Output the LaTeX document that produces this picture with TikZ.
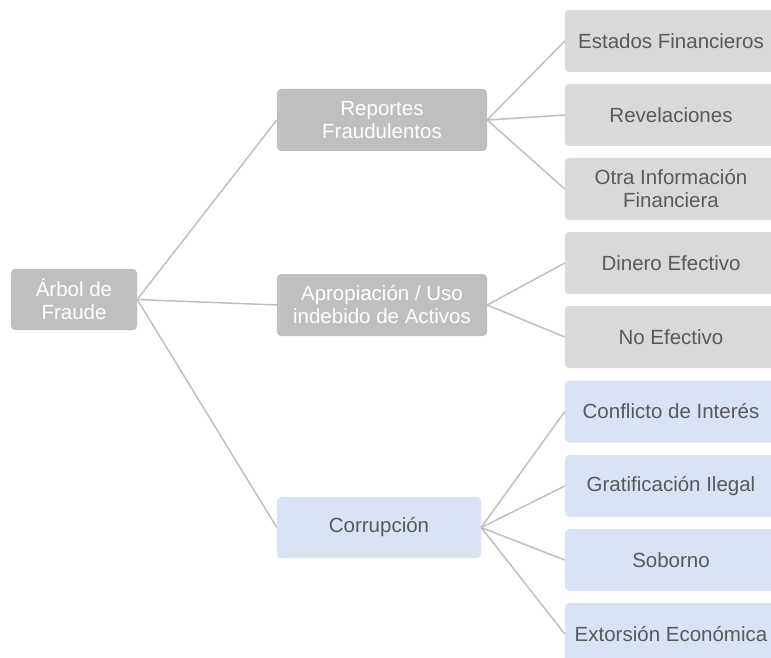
\documentclass[tikz,border=0pt]{standalone}
\usepackage{fontspec}
\setmainfont{Liberation Sans}
\definecolor{boxgray}{HTML}{BFBFBF}
\definecolor{leafgray}{HTML}{D9D9D9}
\definecolor{leafblue}{HTML}{DAE3F3}
\definecolor{txtgray}{HTML}{595959}
\definecolor{linegray}{HTML}{BFBFBF}
\begin{document}
\begin{tikzpicture}[x=1pt,y=-1pt,
  base/.style={rectangle, rounded corners=4pt, inner sep=2pt, align=center,
    font=\fontsize{20.5}{23}\selectfont},
  rootbox/.style={base, fill=boxgray, text=white, minimum width=126pt, minimum height=61pt},
  midbox/.style={base, fill=boxgray, text=white, minimum width=210pt, minimum height=62pt},
  midblue/.style={base, fill=leafblue, text=txtgray, minimum width=204pt, minimum height=61pt},
  leafg/.style={base, fill=leafgray, text=txtgray, minimum width=212pt, minimum height=62pt},
  leafb/.style={base, fill=leafblue, text=txtgray, minimum width=212pt, minimum height=62pt},
  conn/.style={draw=linegray, line width=1.5pt}]
\useasboundingbox (0,0) rectangle (771,658);
\clip (0,0) rectangle (771,658);
\node[rootbox] (root) at (74,299.5) {Árbol de\\Fraude};
\node[midbox] (rep) at (382,120) {Reportes\\Fraudulentos};
\node[midbox] (apr) at (382,305) {Apropiación / Uso\\indebido de Activos};
\node[midblue] (cor) at (379,527.5) {Corrupción};
\node[leafg] (l1) at (671,41) {Estados Financieros};
\node[leafg] (l2) at (671,115) {Revelaciones};
\node[leafg] (l3) at (671,189) {Otra Información\\Financiera};
\node[leafg] (l4) at (671,263) {Dinero Efectivo};
\node[leafg] (l5) at (671,337) {No Efectivo};
\node[leafb] (l6) at (671,411.5) {Conflicto de Interés};
\node[leafb] (l7) at (671,486) {Gratificación Ilegal};
\node[leafb] (l8) at (671,560) {Soborno};
\node[leafb] (l9) at (671,634) {Extorsión Económica};
\begin{scope}[on background layer/.style={}]
\end{scope}
\draw[conn] (root.east) -- (rep.west);
\draw[conn] (root.east) -- (apr.west);
\draw[conn] (root.east) -- (cor.west);
\draw[conn] (rep.east) -- (l1.west);
\draw[conn] (rep.east) -- (l2.west);
\draw[conn] (rep.east) -- (l3.west);
\draw[conn] (apr.east) -- (l4.west);
\draw[conn] (apr.east) -- (l5.west);
\draw[conn] (cor.east) -- (l6.west);
\draw[conn] (cor.east) -- (l7.west);
\draw[conn] (cor.east) -- (l8.west);
\draw[conn] (cor.east) -- (l9.west);
\end{tikzpicture}
\end{document}
